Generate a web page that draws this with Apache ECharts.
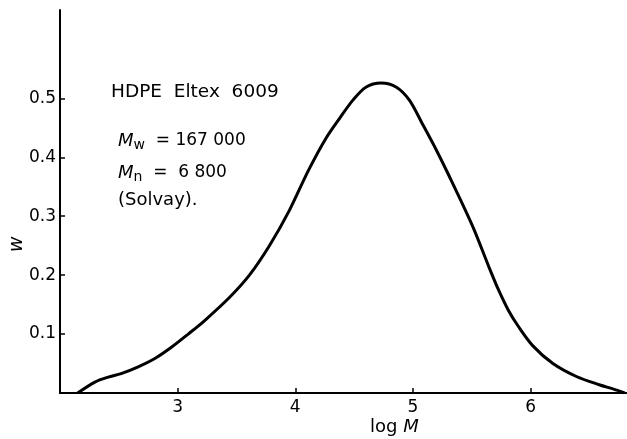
<!DOCTYPE html>
<html>
<head>
<meta charset="utf-8">
<script src="https://cdn.jsdelivr.net/npm/echarts@6/dist/echarts.min.js"></script>
<style>html,body{margin:0;padding:0;background:#fff;}#c{width:627px;height:439px;}</style>
</head>
<body>
<div id="c"></div>
<script>
// Data
var logM = [2.15, 2.30, 2.41, 2.52, 2.66, 2.81, 2.95, 3.09, 3.23, 3.44, 3.61, 3.78, 3.95, 4.11, 4.26, 4.38, 4.49, 4.60, 4.73, 4.86, 4.97, 5.08, 5.20, 5.34, 5.51, 5.65, 5.73, 5.81, 5.90, 6.02, 6.19, 6.39, 6.59, 6.70, 6.80];
var wValues = [0.0, 0.019, 0.027, 0.033, 0.044, 0.059, 0.078, 0.100, 0.123, 0.162, 0.200, 0.250, 0.310, 0.377, 0.432, 0.467, 0.497, 0.519, 0.526, 0.519, 0.497, 0.457, 0.412, 0.355, 0.282, 0.212, 0.174, 0.141, 0.112, 0.080, 0.050, 0.028, 0.0136, 0.007, 0.0];
var xTicks = [3, 4, 5, 6];
var yTicks = [0.1, 0.2, 0.3, 0.4, 0.5];
var xRange = [2, 6.82];
var yRange = [0, 0.65];

var FONT = 'DejaVu Sans';
var chart = echarts.init(document.getElementById('c'), null, {renderer: 'canvas'});
var pts = logM.map(function (x, i) { return [x, wValues[i]]; });

chart.setOption({
  animation: false,
  backgroundColor: '#fff',
  grid: {left: 60, right: 0, top: 10, bottom: 46, containLabel: false},
  xAxis: {
    type: 'value', min: xRange[0], max: xRange[1],
    axisLine: {show: true, lineStyle: {color: '#000', width: 2}},
    axisTick: {show: true, inside: true, length: 5, lineStyle: {color: '#000', width: 1.5}, customValues: xTicks},
    axisLabel: {show: true, color: '#000', fontFamily: FONT, fontSize: 17, margin: 6, customValues: xTicks,
      formatter: function (v) { return String(v); }},
    splitLine: {show: false}
  },
  yAxis: {
    type: 'value', min: yRange[0], max: yRange[1],
    axisLine: {show: true, lineStyle: {color: '#000', width: 2}},
    axisTick: {show: true, inside: true, length: 5, lineStyle: {color: '#000', width: 1.5}, customValues: yTicks},
    axisLabel: {show: true, color: '#000', fontFamily: FONT, fontSize: 17, margin: 4, customValues: yTicks,
      formatter: function (v) { return v.toFixed(1); }},
    splitLine: {show: false}
  },
  series: [{
    type: 'line', data: pts, smooth: 0.3, showSymbol: false, symbol: 'none',
    lineStyle: {color: '#000', width: 3}
  }],
  graphic: [
    {type: 'text', left: 111, top: 83, style: {text: 'HDPE  Eltex  6009', font: '18.5px "' + FONT + '"', fill: '#000'}},
    {type: 'text', left: 118, top: 132, style: {
      text: '{i|M}{s|w}{t|  = 167 000}',
      rich: {
        i: {fontFamily: FONT, fontSize: 18, fontStyle: 'italic', color: '#000'},
        s: {fontFamily: FONT, fontSize: 14, color: '#000', verticalAlign: 'bottom', padding: [9, 0, 0, 0]},
        t: {fontFamily: FONT, fontSize: 17, color: '#000'}
      }}},
    {type: 'text', left: 118, top: 164, style: {
      text: '{i|M}{s|n}{t|  =  6 800}',
      rich: {
        i: {fontFamily: FONT, fontSize: 18, fontStyle: 'italic', color: '#000'},
        s: {fontFamily: FONT, fontSize: 14, color: '#000', verticalAlign: 'bottom', padding: [9, 0, 0, 0]},
        t: {fontFamily: FONT, fontSize: 17, color: '#000'}
      }}},
    {type: 'text', left: 118, top: 191, style: {text: '(Solvay).', font: '18px "' + FONT + '"', fill: '#000'}},
    {type: 'text', left: 370, top: 418, style: {
      text: '{t|log }{i|M}',
      rich: {
        t: {fontFamily: FONT, fontSize: 18, color: '#000'},
        i: {fontFamily: FONT, fontSize: 18, fontStyle: 'italic', color: '#000'}
      }}},
    {type: 'text', x: 8, y: 252, rotation: Math.PI / 2, style: {text: 'w', font: 'italic 19px "' + FONT + '"', fill: '#000'}}
  ]
});
</script>
</body>
</html>
